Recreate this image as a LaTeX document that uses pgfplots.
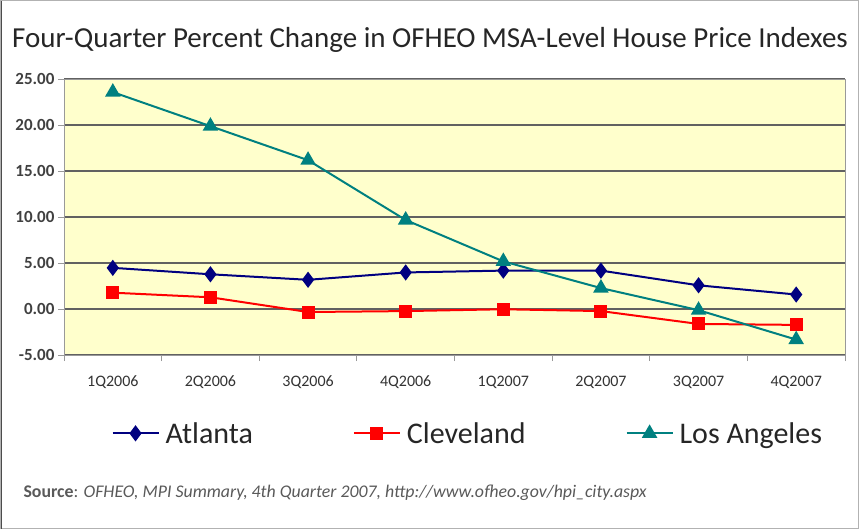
\documentclass[border=0pt]{standalone}
\usepackage{fontspec}
\setmainfont{Carlito}
\usepackage{pgfplots}
\pgfplotsset{compat=1.18}
\definecolor{atl}{HTML}{000080}
\definecolor{cle}{HTML}{FF0000}
\definecolor{la}{HTML}{008080}
\definecolor{plotbg}{HTML}{FFFFCC}
\begin{document}
\begin{tikzpicture}[x=1pt,y=1pt]
\draw[gray!60, line width=1pt] (0.5,0.5) rectangle (858.5,528.5);
\draw[black!70, line width=1.5pt] (1.5,0.5) -- (1.5,528.5);
\node[font=\fontsize{29}{33}\selectfont, text=black!85] at (430,489) {Four-Quarter Percent Change in OFHEO MSA-Level House Price Indexes};
\begin{axis}[
  at={(64pt,174pt)}, anchor=south west,
  scale only axis, width=781pt, height=276pt,
  xmin=0.5, xmax=8.5, ymin=-5, ymax=25,
  axis background/.style={fill=plotbg},
  axis line style={gray!80, line width=1pt},
  xtick={1,...,8},
  xticklabels={1Q2006,2Q2006,3Q2006,4Q2006,1Q2007,2Q2007,3Q2007,4Q2007},
  major x tick style={draw=none},
  minor xtick={0.5,1.5,...,8.5},
  minor tick length=6pt,
  minor x tick style={gray!80, line width=1pt},
  xticklabel style={font=\fontsize{16}{18}\selectfont, text=black!80, yshift=-11pt},
  ytick={-5,0,5,10,15,20,25},
  ymajorgrids,
  major grid style={black!62, line width=1.6pt},
  major tick length=6pt,
  tick align=outside,
  major y tick style={gray!80, line width=1pt},
  yticklabel style={font=\fontsize{17}{19}\selectfont\bfseries, text=black!75},
  /pgf/number format/.cd, fixed, fixed zerofill, precision=2, assume math mode=true,
  /pgfplots/.cd,
  axis x line*=bottom, axis y line*=left,
  clip=false,
  legend columns=3,
  legend style={at={(0.517,-0.283)}, anchor=center, draw=none, fill=none,
    font=\fontsize{30}{33}\selectfont, text=black!85,
    /tikz/every odd column/.append style={column sep=4pt},
    /tikz/every even column/.append style={column sep=98pt}},
  legend image code/.code={\draw[mark repeat=2,mark phase=2] plot coordinates {(0pt,0pt) (23pt,0pt) (46pt,0pt)};},
]
\draw[gray!80, line width=1pt] (rel axis cs:0,1) -- (rel axis cs:1,1) -- (rel axis cs:1,0);
\addplot[atl, line width=2pt, mark=diamond*, mark size=6.5pt] coordinates {(1,4.5) (2,3.8) (3,3.2) (4,4.0) (5,4.2) (6,4.2) (7,2.6) (8,1.6)};
\addlegendentry{Atlanta}
\addplot[cle, line width=2pt, mark=square*, mark size=5.5pt] coordinates {(1,1.8) (2,1.3) (3,-0.3) (4,-0.2) (5,0.0) (6,-0.2) (7,-1.6) (8,-1.7)};
\addlegendentry{Cleveland}
\addplot[la, line width=2pt, mark=triangle*, mark size=7pt] coordinates {(1,23.6) (2,19.9) (3,16.2) (4,9.7) (5,5.2) (6,2.3) (7,-0.1) (8,-3.3)};
\addlegendentry{Los Angeles}
\end{axis}
\node[anchor=west, font=\fontsize{17.8}{20}\selectfont, text=black!65] at (20,36) {\textbf{Source}: \textit{OFHEO, MPI Summary, 4th Quarter 2007, http://www.ofheo.gov/hpi\_city.aspx}};
\end{tikzpicture}
\end{document}
